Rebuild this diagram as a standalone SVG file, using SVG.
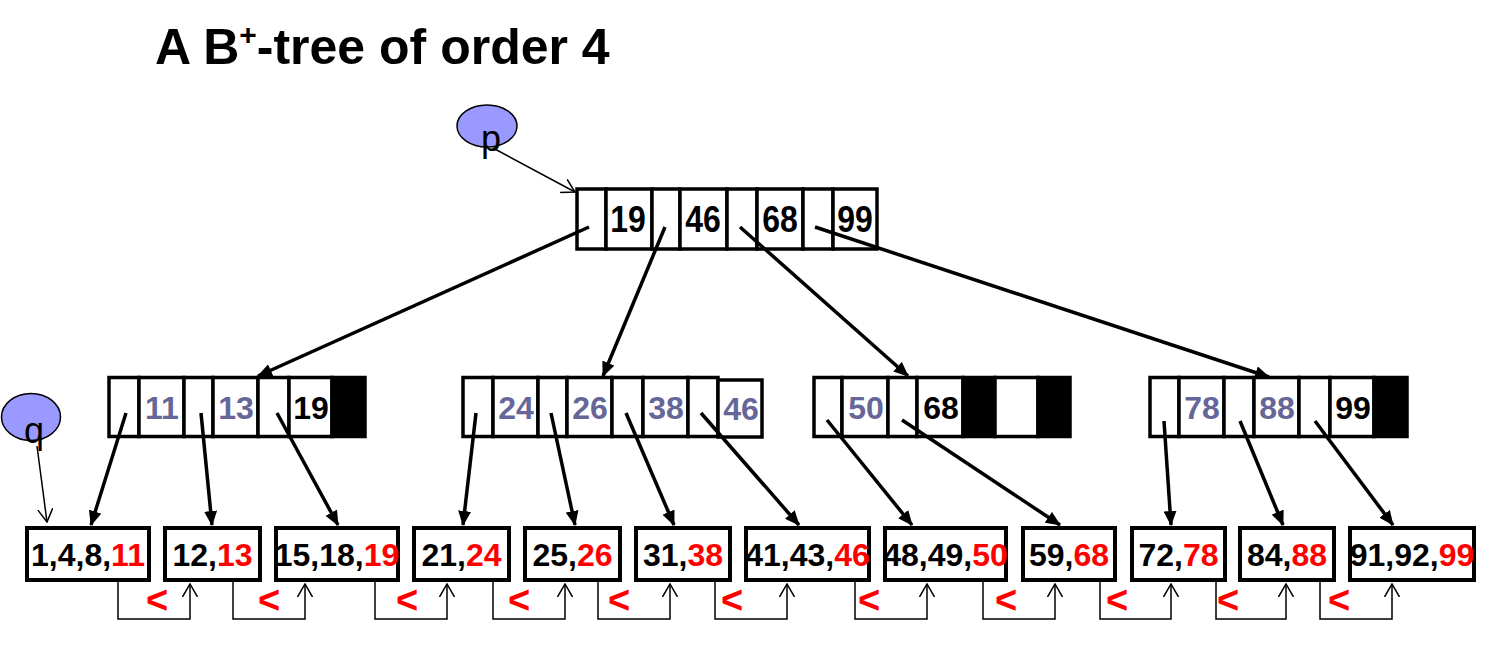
<svg xmlns="http://www.w3.org/2000/svg" width="1499" height="646" viewBox="0 0 1499 646">
<style>
.cell{fill:#fff;stroke:#000;stroke-width:3.5}
.blk{fill:#000;stroke:#000;stroke-width:3.5}
.leaf{fill:#fff;stroke:#000;stroke-width:4}
.k{font-family:"Liberation Sans",Arial,sans-serif;font-weight:bold;font-size:32px;text-anchor:middle;fill:#000}
.kr{font-family:"Liberation Sans",Arial,sans-serif;font-weight:bold;font-size:32px;text-anchor:middle;fill:#000}
.pu{fill:#666699}
.lt{font-family:"Liberation Sans",Arial,sans-serif;font-weight:bold;font-size:32px;text-anchor:middle;fill:#000}
.red{fill:#ff0000}
.lt2{font-family:"Liberation Sans",Arial,sans-serif;font-weight:bold;font-size:38px;fill:#ff0000}
.ptr{stroke:#000;stroke-width:3.5;fill:none;marker-end:url(#af)}
.thin{stroke:#000;stroke-width:1.5;fill:none;marker-end:url(#ao)}
.ell{fill:#9999ff;stroke:#000;stroke-width:1.5}
.var{font-family:"Liberation Sans",Arial,sans-serif;font-size:36px;fill:#000}
</style>
<defs>
<marker id="af" viewBox="0 0 15 13" refX="14" refY="6.5" markerWidth="15" markerHeight="13" markerUnits="userSpaceOnUse" orient="auto"><path d="M0,0 L15,6.5 L0,13 z" fill="#000"/></marker>
<marker id="ao" viewBox="0 0 14 16" refX="13" refY="8" markerWidth="14" markerHeight="16" markerUnits="userSpaceOnUse" orient="auto"><path d="M0,0.5 L13,8 L0,15.5" fill="none" stroke="#000" stroke-width="1.5"/></marker>
</defs>
<rect width="1499" height="646" fill="#fff"/>
<text x="155" y="64" font-family="Liberation Sans,Arial,sans-serif" font-weight="bold" font-size="50">A B<tspan dy="-19" font-size="30">+</tspan><tspan dy="19">-tree of order 4</tspan></text>

<g id="p">
<ellipse class="ell" cx="487" cy="126" rx="30" ry="21"/>
<text class="var" x="481" y="151">p</text>
</g>
<g id="q">
<ellipse class="ell" cx="31" cy="417" rx="29.5" ry="23.5"/>
<text class="var" x="24" y="443">q</text>
</g>

<g id="root">
<rect class="cell" x="577" y="189" width="29" height="60"/>
<rect class="cell" x="606" y="189" width="46" height="60"/>
<rect class="cell" x="652" y="189" width="28" height="60"/>
<rect class="cell" x="680" y="189" width="47" height="60"/>
<rect class="cell" x="727" y="189" width="30" height="60"/>
<rect class="cell" x="757" y="189" width="46" height="60"/>
<rect class="cell" x="803" y="189" width="30" height="60"/>
<rect class="cell" x="833" y="189" width="44" height="60"/>
<text class="kr" transform="translate(628,232) scale(1,1.15)">19</text>
<text class="kr" transform="translate(703,232) scale(1,1.15)">46</text>
<text class="kr" transform="translate(780,232) scale(1,1.15)">68</text>
<text class="kr" transform="translate(855,232) scale(1,1.15)">99</text>
</g>

<g id="n1">
<rect class="cell" x="109" y="377.5" width="30" height="59"/>
<rect class="cell" x="139" y="377.5" width="45" height="59"/>
<rect class="cell" x="184" y="377.5" width="29" height="59"/>
<rect class="cell" x="213" y="377.5" width="45" height="59"/>
<rect class="cell" x="258" y="377.5" width="31" height="59"/>
<rect class="cell" x="289" y="377.5" width="43" height="59"/>
<rect class="blk" x="332" y="377.5" width="33" height="59"/>
<text class="k pu" x="162" y="419">11</text>
<text class="k pu" x="236" y="419">13</text>
<text class="k" x="311" y="419">19</text>
</g>

<g id="n2">
<rect class="cell" x="463" y="377.5" width="30" height="59"/>
<rect class="cell" x="493" y="377.5" width="45" height="59"/>
<rect class="cell" x="538" y="377.5" width="29" height="59"/>
<rect class="cell" x="567" y="377.5" width="45" height="59"/>
<rect class="cell" x="612" y="377.5" width="31" height="59"/>
<rect class="cell" x="643" y="377.5" width="45" height="59"/>
<rect class="cell" x="688" y="377.5" width="30" height="59"/>
<rect class="cell" x="718" y="380" width="44" height="57"/>
<text class="k pu" x="516" y="419">24</text>
<text class="k pu" x="590" y="419">26</text>
<text class="k pu" x="666" y="419">38</text>
<text class="k pu" x="741" y="420">46</text>
</g>

<g id="n3">
<rect class="cell" x="814" y="377.5" width="28" height="59"/>
<rect class="cell" x="842" y="377.5" width="46" height="59"/>
<rect class="cell" x="888" y="377.5" width="29" height="59"/>
<rect class="cell" x="917" y="377.5" width="46" height="59"/>
<rect class="blk" x="963" y="377.5" width="32" height="59"/>
<rect class="cell" x="995" y="377.5" width="43" height="59"/>
<rect class="blk" x="1038" y="377.5" width="32" height="59"/>
<text class="k pu" x="866" y="419">50</text>
<text class="k" x="941" y="419">68</text>
</g>

<g id="n4">
<rect class="cell" x="1150" y="377.5" width="29" height="59"/>
<rect class="cell" x="1179" y="377.5" width="45" height="59"/>
<rect class="cell" x="1224" y="377.5" width="30" height="59"/>
<rect class="cell" x="1254" y="377.5" width="45" height="59"/>
<rect class="cell" x="1299" y="377.5" width="31" height="59"/>
<rect class="cell" x="1330" y="377.5" width="44" height="59"/>
<rect class="blk" x="1374" y="377.5" width="33" height="59"/>
<text class="k pu" x="1202" y="419">78</text>
<text class="k pu" x="1277" y="419">88</text>
<text class="k" x="1353" y="419">99</text>
</g>

<g id="leaf1"><rect class="leaf" x="27" y="528" width="122" height="52"/><text class="lt" x="88" y="566">1,4,8,<tspan class="red">11</tspan></text></g>
<g id="leaf2"><rect class="leaf" x="165" y="528" width="95" height="52"/><text class="lt" x="212.5" y="566">12,<tspan class="red">13</tspan></text></g>
<g id="leaf3"><rect class="leaf" x="276" y="528" width="122" height="52"/><text class="lt" x="337" y="566">15,18,<tspan class="red">19</tspan></text></g>
<g id="leaf4"><rect class="leaf" x="414" y="528" width="95" height="52"/><text class="lt" x="461.5" y="566">21,<tspan class="red">24</tspan></text></g>
<g id="leaf5"><rect class="leaf" x="525" y="528" width="95" height="52"/><text class="lt" x="572.5" y="566">25,<tspan class="red">26</tspan></text></g>
<g id="leaf6"><rect class="leaf" x="636" y="528" width="94" height="52"/><text class="lt" x="683" y="566">31,<tspan class="red">38</tspan></text></g>
<g id="leaf7"><rect class="leaf" x="746" y="528" width="123" height="52"/><text class="lt" x="807.5" y="566">41,43,<tspan class="red">46</tspan></text></g>
<g id="leaf8"><rect class="leaf" x="885" y="528" width="121" height="52"/><text class="lt" x="945.5" y="566">48,49,<tspan class="red">50</tspan></text></g>
<g id="leaf9"><rect class="leaf" x="1023" y="528" width="92" height="52"/><text class="lt" x="1069" y="566">59,<tspan class="red">68</tspan></text></g>
<g id="leaf10"><rect class="leaf" x="1132" y="528" width="93" height="52"/><text class="lt" x="1178.5" y="566">72,<tspan class="red">78</tspan></text></g>
<g id="leaf11"><rect class="leaf" x="1240" y="528" width="94" height="52"/><text class="lt" x="1287" y="566">84,<tspan class="red">88</tspan></text></g>
<g id="leaf12"><rect class="leaf" x="1350" y="528" width="124" height="52"/><text class="lt" x="1412" y="566">91,92,<tspan class="red">99</tspan></text></g>

<g id="connectors">
<line class="thin" x1="493" y1="148" x2="575" y2="192"/>
<line class="thin" x1="37" y1="446" x2="47" y2="522"/>

<line class="ptr" x1="589" y1="227" x2="258" y2="376"/>
<line class="ptr" x1="665" y1="227" x2="603" y2="376"/>
<line class="ptr" x1="740" y1="227" x2="908" y2="376"/>
<line class="ptr" x1="815" y1="227" x2="1269" y2="377"/>

<line class="ptr" x1="126" y1="413" x2="91" y2="525"/>
<line class="ptr" x1="201" y1="413" x2="212" y2="525"/>
<line class="ptr" x1="277" y1="413" x2="338" y2="525"/>
<line class="ptr" x1="476" y1="413" x2="463" y2="525"/>
<line class="ptr" x1="551" y1="413" x2="575" y2="525"/>
<line class="ptr" x1="626" y1="413" x2="674" y2="525"/>
<line class="ptr" x1="701" y1="413" x2="799" y2="525"/>
<line class="ptr" x1="827" y1="420" x2="912" y2="525"/>
<line class="ptr" x1="902" y1="420" x2="1060" y2="525"/>
<line class="ptr" x1="1164" y1="421" x2="1171" y2="525"/>
<line class="ptr" x1="1240" y1="421" x2="1283" y2="525"/>
<line class="ptr" x1="1315" y1="421" x2="1393" y2="525"/>

<path class="thin" d="M118,582 V619 H190 V584"/>
<path class="thin" d="M233,582 V619 H305 V584"/>
<path class="thin" d="M375,582 V619 H447 V584"/>
<path class="thin" d="M493,582 V619 H565 V584"/>
<path class="thin" d="M598,582 V619 H670 V584"/>
<path class="thin" d="M715,582 V619 H787 V584"/>
<path class="thin" d="M855,582 V619 H927 V584"/>
<path class="thin" d="M983,582 V619 H1055 V584"/>
<path class="thin" d="M1100,582 V619 H1171 V584"/>
<path class="thin" d="M1216,582 V619 H1286 V584"/>
<path class="thin" d="M1320,582 V619 H1392 V584"/>
</g>

<g id="order-marks">
<text class="lt2" x="146" y="613">&lt;</text>
<text class="lt2" x="258" y="613">&lt;</text>
<text class="lt2" x="396" y="613">&lt;</text>
<text class="lt2" x="508" y="613">&lt;</text>
<text class="lt2" x="608" y="613">&lt;</text>
<text class="lt2" x="721" y="613">&lt;</text>
<text class="lt2" x="858" y="613">&lt;</text>
<text class="lt2" x="995" y="613">&lt;</text>
<text class="lt2" x="1106" y="613">&lt;</text>
<text class="lt2" x="1217" y="613">&lt;</text>
<text class="lt2" x="1328" y="613">&lt;</text>
</g>
</svg>
